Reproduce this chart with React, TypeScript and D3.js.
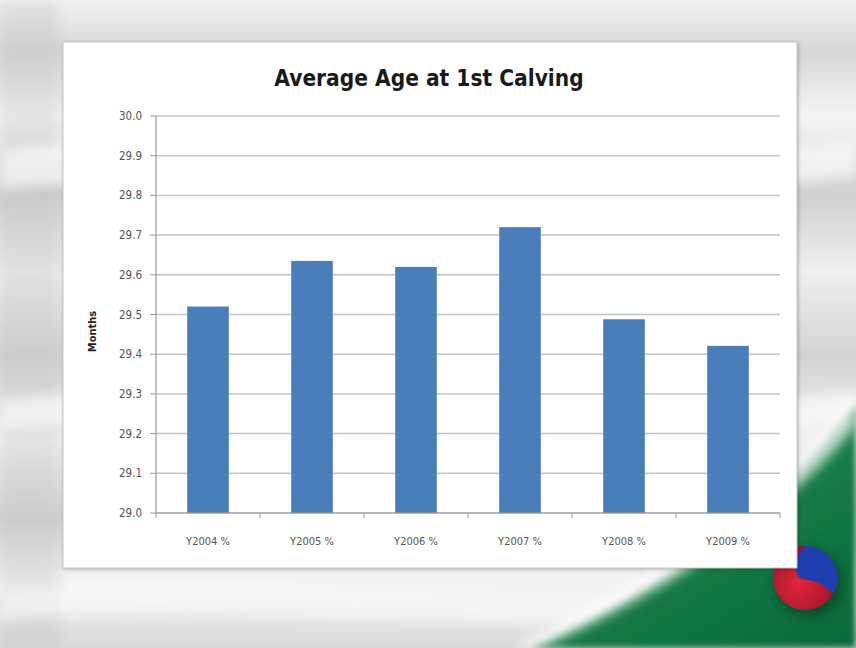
import React from "react";
import * as d3 from "d3";

const categories = ["Y2004 %", "Y2005 %", "Y2006 %", "Y2007 %", "Y2008 %", "Y2009 %"];
const values = [29.52, 29.635, 29.62, 29.72, 29.488, 29.421];
const yTicks = [29.0, 29.1, 29.2, 29.3, 29.4, 29.5, 29.6, 29.7, 29.8, 29.9, 30.0];

const W = 856;
const H = 648;
const font = "'Liberation Sans Narrow', 'DejaVu Sans Condensed', 'Open Sans', sans-serif";

const plot = { left: 156, right: 780, top: 116, bottom: 513 };

export default function App() {
  const x = d3.scaleBand<string>()
    .domain(categories)
    .range([plot.left, plot.right])
    .paddingInner(0.6)
    .paddingOuter(0.3);
  const y = d3.scaleLinear().domain([29, 30]).range([plot.bottom, plot.top]);
  const step = x.step();
  const bounds = d3.range(categories.length + 1).map(i => plot.left + i * step);

  // green swoosh in the bottom right of the slide background
  const swoosh = "M856,405 C800,480 700,570 530,648 L856,648 Z";
  const swooshEdge = "M856,395 C800,470 700,560 510,648 L540,648 C705,575 805,490 856,425 Z";

  return (
    <div style={{ position: "absolute", left: 0, top: 0 }}>
      <svg width={W} height={H} style={{ display: "block" }}>
        <defs>
          <linearGradient id="bg" x1="0" y1="0" x2="0" y2="1">
            <stop offset="0" stopColor="#f2f2f2" />
            <stop offset="0.08" stopColor="#d6d6d6" />
            <stop offset="0.18" stopColor="#f5f5f5" />
            <stop offset="0.3" stopColor="#d0d0d0" />
            <stop offset="0.42" stopColor="#efefef" />
            <stop offset="0.55" stopColor="#d3d3d3" />
            <stop offset="0.68" stopColor="#f2f2f2" />
            <stop offset="0.8" stopColor="#d2d2d2" />
            <stop offset="0.9" stopColor="#f4f4f4" />
            <stop offset="1" stopColor="#d8d8d8" />
          </linearGradient>
          <linearGradient id="green" x1="0.1" y1="0" x2="0.9" y2="1">
            <stop offset="0" stopColor="#4fa57a" />
            <stop offset="0.4" stopColor="#18804b" />
            <stop offset="1" stopColor="#0b6b3a" />
          </linearGradient>
          <radialGradient id="red" cx="0.4" cy="0.6" r="0.6">
            <stop offset="0" stopColor="#e0283a" />
            <stop offset="1" stopColor="#a0122a" />
          </radialGradient>
          <filter id="blur" filterUnits="userSpaceOnUse" x="0" y="0" width={W} height={H}>
            <feGaussianBlur stdDeviation="6" />
          </filter>
          <filter id="softblur" filterUnits="userSpaceOnUse" x="0" y="0" width={W} height={H}>
            <feGaussianBlur stdDeviation="3" />
          </filter>
          <filter id="shadow" filterUnits="userSpaceOnUse" x="0" y="0" width={W} height={H}>
            <feGaussianBlur stdDeviation="2" />
          </filter>
        </defs>

        <rect width={W} height={H} fill="url(#bg)" />
        <rect width={60} height={H} fill="#b8b8b8" opacity={0.25} filter="url(#blur)" />
        <path d="M0,150 C200,120 500,190 856,140 L856,175 C500,225 200,160 0,190 Z" fill="#ffffff" opacity={0.6} filter="url(#blur)" />
        <path d="M0,400 C250,370 550,440 856,390 L856,420 C550,470 250,400 0,430 Z" fill="#ffffff" opacity={0.6} filter="url(#blur)" />
        <path d="M0,590 C250,570 500,610 856,590 L856,620 C500,640 250,600 0,620 Z" fill="#ffffff" opacity={0.5} filter="url(#blur)" />
        <path d={swoosh} fill="url(#green)" filter="url(#softblur)" />
        <path d={swooshEdge} fill="#ffffff" opacity={0.75} filter="url(#blur)" />

        {/* logo ball */}
        <circle cx={809} cy={583} r={34} fill="#000" opacity={0.3} filter="url(#blur)" />
        <circle cx={805} cy={578} r={32} fill="url(#red)" />
        <path d="M805,546 A32,32 0 0 1 833,594 C826,586 815,580 806,580 C798,580 794,571 796,561 C798,553 802,549 805,546 Z" fill="#1f3fb0" />

        {/* chart panel */}
        <rect x={64} y={43} width={734} height={526} fill="#000" opacity={0.3} filter="url(#shadow)" />
        <rect x={63} y={42} width={734} height={526} fill="#ffffff" stroke="#c8c8c8" />

        <text x={429} y={86} textAnchor="middle" fontFamily={font} fontWeight="bold" fontSize={22.5} fill="#1a1a1a">
          Average Age at 1st Calving
        </text>

        {/* gridlines */}
        {yTicks.map(t => (
          <line key={"g" + t} x1={plot.left} x2={plot.right} y1={y(t)} y2={y(t)} stroke="#c4c4c4" strokeWidth={1.5} />
        ))}

        {/* bars */}
        {categories.map((c, i) => (
          <rect key={c} x={x(c)} y={y(values[i])} width={x.bandwidth()} height={plot.bottom - y(values[i])} fill="#4a7ebb" />
        ))}

        {/* y axis */}
        <line x1={plot.left} x2={plot.left} y1={plot.top} y2={plot.bottom} stroke="#9a9a9a" strokeWidth={1.2} />
        {yTicks.map(t => (
          <g key={"t" + t}>
            <line x1={plot.left - 6} x2={plot.left} y1={y(t)} y2={y(t)} stroke="#9a9a9a" />
            <text x={plot.left - 14} y={y(t) + 4} textAnchor="end" fontFamily={font} fontSize={11.5} fill="#555">
              {d3.format(".1f")(t)}
            </text>
          </g>
        ))}

        {/* x axis */}
        <line x1={plot.left} x2={plot.right} y1={plot.bottom} y2={plot.bottom} stroke="#9a9a9a" strokeWidth={1.2} />
        {bounds.map((b, i) => (
          <line key={"b" + i} x1={b} x2={b} y1={plot.bottom} y2={plot.bottom + 5} stroke="#9a9a9a" />
        ))}
        {categories.map(c => (
          <text key={"l" + c} x={(x(c) ?? 0) + x.bandwidth() / 2} y={545} textAnchor="middle" fontFamily={font} fontSize={11} fill="#555">
            {c}
          </text>
        ))}

        <text transform={`translate(96,${(plot.top + plot.bottom) / 2 + 17}) rotate(-90)`} textAnchor="middle" fontFamily={font} fontWeight="bold" fontSize={11} fill="#222">
          Months
        </text>
      </svg>
    </div>
  );
}
